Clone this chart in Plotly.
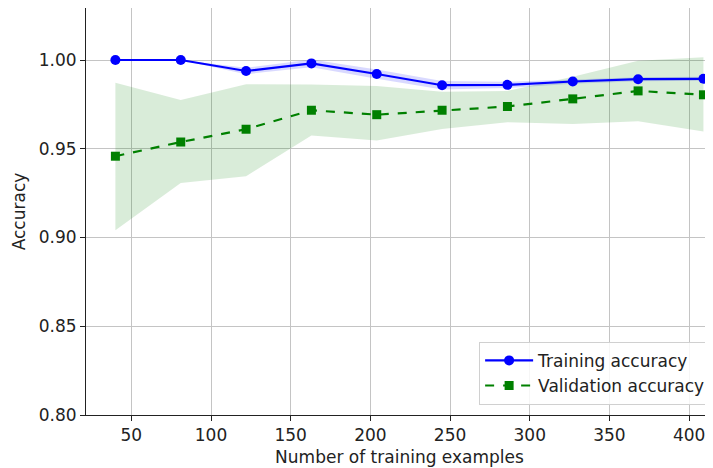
import plotly.graph_objects as go

# training set sizes
train_sizes = [40, 81, 122, 163, 204, 245, 286, 327, 368, 409]

train_mean = [1.000, 1.000, 0.9938, 0.9981, 0.9921, 0.9858, 0.9860, 0.9879, 0.9892, 0.9894]
train_upper = [1.000, 1.000, 0.9956, 1.0003, 0.9947, 0.9882, 0.9878, 0.9892, 0.9903, 0.9905]
train_lower = [1.000, 1.000, 0.9920, 0.9959, 0.9895, 0.9834, 0.9842, 0.9866, 0.9881, 0.9883]

valid_mean = [0.9458, 0.9538, 0.9610, 0.9717, 0.9692, 0.9717, 0.9738, 0.9781, 0.9826, 0.9804]
valid_upper = [0.9872, 0.9774, 0.9864, 0.9862, 0.9853, 0.9821, 0.9826, 0.9905, 0.9996, 1.0015]
valid_lower = [0.9041, 0.9307, 0.9345, 0.9575, 0.9547, 0.9612, 0.9650, 0.9640, 0.9655, 0.9597]

y_ticks = [0.80, 0.85, 0.90, 0.95, 1.00]
x_ticks = [50, 100, 150, 200, 250, 300, 350, 400]

FONT = "DejaVu Sans"
FS = 17


def band(lower, upper, color):
    return [
        go.Scatter(x=train_sizes, y=lower, mode="lines", line=dict(width=0),
                   showlegend=False, hoverinfo="skip"),
        go.Scatter(x=train_sizes, y=upper, mode="lines", line=dict(width=0),
                   fill="tonexty", fillcolor=color, showlegend=False, hoverinfo="skip"),
    ]


traces = []
traces += band(train_lower, train_upper, "rgba(0,0,255,0.15)")
traces += band(valid_lower, valid_upper, "rgba(0,128,0,0.15)")
traces.append(go.Scatter(
    x=train_sizes, y=train_mean, mode="lines+markers", name="Training accuracy",
    line=dict(color="blue", width=2.2),
    marker=dict(symbol="circle", size=10, color="blue"),
))
traces.append(go.Scatter(
    x=train_sizes, y=valid_mean, mode="lines+markers", name="Validation accuracy",
    line=dict(color="green", width=2.2, dash="dash"),
    marker=dict(symbol="square", size=9, color="green"),
))

fig = go.Figure(data=traces)
axis_common = dict(
    showgrid=True, gridcolor="#c4c4c4", gridwidth=1,
    showline=True, linecolor="#222222", linewidth=1,
    ticks="outside", ticklen=5, tickcolor="#222222",
    tickfont=dict(family=FONT, size=FS, color="#222222"),
    zeroline=False,
)
# the page body keeps its default 8px margin, so the figure is sized to fit
fig.update_layout(
    width=705, height=460,
    margin=dict(l=78, r=0, t=0, b=53),
    paper_bgcolor="white", plot_bgcolor="white",
    font=dict(family=FONT, size=FS, color="#222222"),
    xaxis=dict(
        axis_common, range=[21.55, 415], tickvals=x_ticks, mirror=True,
        title=dict(text="Number of training examples", standoff=6,
                   font=dict(family=FONT, size=FS)),
    ),
    yaxis=dict(
        axis_common, range=[0.8, 1.0293], tickvals=y_ticks, tickformat=".2f",
        title=dict(text="Accuracy", standoff=8, font=dict(family=FONT, size=FS)),
    ),
    legend=dict(
        x=0.997, y=0.025, xanchor="right", yanchor="bottom", traceorder="normal",
        itemwidth=48,
        bgcolor="rgba(255,255,255,0.85)", bordercolor="#d0d0d0", borderwidth=1,
        font=dict(family=FONT, size=FS, color="#222222"),
    ),
)

fig.write_html("out.html")
